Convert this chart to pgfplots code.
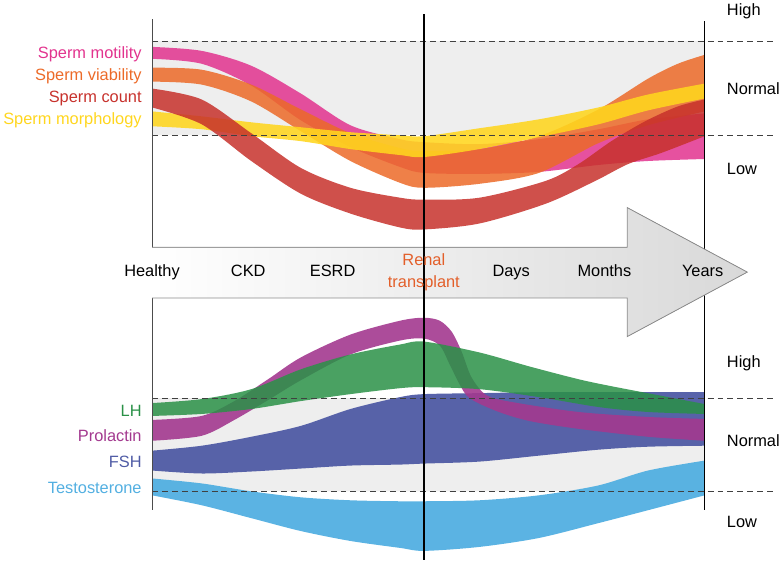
\documentclass[border=0pt]{standalone}
\usepackage{pgfplots}
\pgfplotsset{compat=1.18}
\usepgfplotslibrary{fillbetween}
\tikzset{fill between/on layer=main}
\usepackage{fontspec}
\setmainfont{Liberation Sans}
\definecolor{cMot}{HTML}{E2338E}
\definecolor{cVia}{HTML}{EC6A28}
\definecolor{cCnt}{HTML}{C7312C}
\definecolor{cMor}{HTML}{FFD61E}
\definecolor{cLH}{HTML}{2A9147}
\definecolor{cPrl}{HTML}{A3398F}
\definecolor{cFSH}{HTML}{4F5BA5}
\definecolor{cTes}{HTML}{52AFE1}
\definecolor{cGrey}{HTML}{EEEEEE}
\definecolor{cRen}{HTML}{E35F2A}
\newcommand\lab{\fontsize{16.5bp}{19bp}\selectfont}
\begin{document}
\begin{tikzpicture}
\begin{axis}[width=783bp,height=562bp,scale only axis,
  xmin=0,xmax=783,ymin=0,ymax=562,y dir=reverse,hide axis,clip=false]
\addplot[draw=none] coordinates {(0,0) (783,562)};
% normal-range bands
\addplot[fill=cGrey, draw=none] coordinates {(150,39) (707,39) (707,134) (150,134) (150,39)};
\addplot[fill=cGrey, draw=none] coordinates {(150,399) (707,399) (707,493) (150,493) (150,399)};
% ---- top panel ----
\addplot[name path=motT, draw=none, smooth] coordinates {(150,45)(200,49)(250,64)(300,92)(350,124)(400,138)(424,141)(480,143)(540,138)(600,128)(650,118)(707,112)};
\addplot[name path=motB, draw=none, smooth] coordinates {(150,57)(200,62)(250,84)(300,119)(350,146)(400,166)(424,172)(480,173)(540,171)(600,164)(650,160)(707,158)};
\addplot[fill=cMot, fill opacity=0.85, draw=none] fill between[of=motT and motB];
\addplot[name path=viaT, draw=none, smooth] coordinates {(150,66)(200,68)(250,83)(300,108)(350,132)(400,147)(424,150)(480,148)(540,135)(600,108)(650,77)(680,62)(707,53)};
\addplot[name path=viaB, draw=none, smooth] coordinates {(150,80)(200,83)(250,100)(300,130)(350,160)(400,182)(424,187)(480,183)(540,172)(600,142)(650,124)(707,110)};
\addplot[fill=cVia, fill opacity=0.85, draw=none] fill between[of=viaT and viaB];
\addplot[name path=morT, draw=none, smooth] coordinates {(150,110)(200,115)(250,121)(300,126)(350,131)(400,134)(424,135)(480,127)(540,118)(600,106)(650,93)(707,82)};
\addplot[name path=morB, draw=none, smooth] coordinates {(150,125)(200,128)(250,135)(300,140)(350,148)(400,154)(424,156)(480,148)(540,136)(600,123)(650,109)(707,97)};
\addplot[fill=cMor, fill opacity=0.88, draw=none] fill between[of=morT and morB];
\addplot[name path=cntT, draw=none, smooth] coordinates {(150,87)(200,98)(250,132)(300,167)(350,187)(400,197)(424,199)(480,197)(547,180)(580,163)(613,140)(647,120)(680,105)(707,98)};
\addplot[name path=cntB, draw=none, smooth] coordinates {(150,106)(200,123)(250,160)(300,193)(350,213)(400,227)(424,229)(480,223)(547,203)(597,180)(630,163)(663,152)(707,135)};
\addplot[fill=cCnt, fill opacity=0.85, draw=none] fill between[of=cntT and cntB];
% ---- bottom panel ----
\addplot[name path=tesT, draw=none, smooth] coordinates {(150,480)(200,485)(250,493)(300,499)(350,502)(400,503)(424,503)(480,502)(540,497)(600,487)(650,472)(707,462)};
\addplot[name path=tesB, draw=none, smooth] coordinates {(150,497)(200,507)(250,520)(300,533)(350,543)(400,550)(424,553)(480,549)(540,540)(600,525)(650,512)(707,497)};
\addplot[fill=cTes, fill opacity=0.95, draw=none] fill between[of=tesT and tesB];
\addplot[name path=fshT, draw=none, smooth] coordinates {(150,452)(200,447)(250,438)(300,427)(350,410)(400,398)(424,395)(480,394)(540,393)(600,393)(650,393)(707,393)};
\addplot[name path=fshB, draw=none, smooth] coordinates {(150,472)(200,475)(250,473)(300,470)(350,467)(400,466)(424,465)(480,463)(540,457)(600,451)(650,448)(707,447)};
\addplot[fill=cFSH, fill opacity=0.95, draw=none] fill between[of=fshT and fshB];
\addplot[name path=prlT, draw=none, smooth] coordinates {(150,421)(200,417)(233,402)(267,380)(300,358)(350,335)(400,321)(424,318)(440,321)(452,332)(462,352)(472,378)(487,396)(513,403)(580,413)(650,418)(707,420)};
\addplot[name path=prlB, draw=none, smooth] coordinates {(150,442)(200,437)(233,421)(267,401)(300,381)(350,355)(400,341)(424,339)(440,346)(450,365)(460,385)(470,399)(497,412)(530,422)(580,430)(650,438)(707,442)};
\addplot[fill=cPrl, fill opacity=0.9, draw=none] fill between[of=prlT and prlB];
\addplot[name path=lhT, draw=none, smooth] coordinates {(150,404)(200,400)(250,390)(300,370)(350,355)(400,345)(424,342)(480,353)(530,367)(580,380)(613,387)(660,396)(707,405)};
\addplot[name path=lhB, draw=none, smooth] coordinates {(150,417)(200,415)(250,410)(300,402)(350,395)(400,389)(424,388)(480,390)(540,398)(600,408)(650,413)(707,415)};
\addplot[fill=cLH, fill opacity=0.85, draw=none] fill between[of=lhT and lhB];
% dashed limits
\addplot[black!75, line width=0.8bp, dash pattern=on 6bp off 4bp] coordinates {(150,39) (777,39)};
\addplot[black!75, line width=0.8bp, dash pattern=on 6bp off 4bp] coordinates {(150,134) (777,134)};
\addplot[black!75, line width=0.8bp, dash pattern=on 6bp off 4bp] coordinates {(150,399) (777,399)};
\addplot[black!75, line width=0.8bp, dash pattern=on 6bp off 4bp] coordinates {(150,493) (777,493)};
% side lines
\addplot[black!70, line width=1bp] coordinates {(150,17) (150,512)};
\addplot[black, line width=1bp] coordinates {(707,19) (707,512)};
% timeline arrow
\fill[left color=white, right color=black!15] (axis cs:150,247) -- (axis cs:629,247) -- (axis cs:629,207) -- (axis cs:750,272) -- (axis cs:629,337) -- (axis cs:629,298) -- (axis cs:150,298) -- cycle;
\draw[black!45, line width=0.8bp] (axis cs:150,247) -- (axis cs:629,247) -- (axis cs:629,207) -- (axis cs:750,272) -- (axis cs:629,337) -- (axis cs:629,298) -- (axis cs:150,298);
% transplant line
\addplot[black, line width=2bp] coordinates {(424,12) (424,562)};
% labels
\node[anchor=base east, text=cMot] at (axis cs:143,57) {\lab Sperm motility};
\node[anchor=base east, text=cVia] at (axis cs:143,79) {\lab Sperm viability};
\node[anchor=base east, text=cCnt] at (axis cs:143,101) {\lab Sperm count};
\node[anchor=base east, text=cMor] at (axis cs:143,123) {\lab Sperm morphology};
\node[anchor=base east, text=cLH] at (axis cs:143,418) {\lab LH};
\node[anchor=base east, text=cPrl] at (axis cs:143,443) {\lab Prolactin};
\node[anchor=base east, text=cFSH] at (axis cs:143,469) {\lab FSH};
\node[anchor=base east, text=cTes] at (axis cs:143,495) {\lab Testosterone};
\node[anchor=base west] at (axis cs:726,13) {\lab High};
\node[anchor=base west] at (axis cs:726,93) {\lab Normal};
\node[anchor=base west] at (axis cs:726,174) {\lab Low};
\node[anchor=base west] at (axis cs:726,368) {\lab High};
\node[anchor=base west] at (axis cs:726,448) {\lab Normal};
\node[anchor=base west] at (axis cs:726,529) {\lab Low};
\node[anchor=base] at (axis cs:150,276) {\lab Healthy};
\node[anchor=base] at (axis cs:247,276) {\lab CKD};
\node[anchor=base] at (axis cs:332,276) {\lab ESRD};
\node[anchor=base, text=cRen] at (axis cs:424,265) {\lab Renal};
\node[anchor=base, text=cRen] at (axis cs:424,288) {\lab transplant};
\node[anchor=base] at (axis cs:512,276) {\lab Days};
\node[anchor=base] at (axis cs:606,276) {\lab Months};
\node[anchor=base] at (axis cs:705,276) {\lab Years};
\end{axis}
\end{tikzpicture}
\end{document}
